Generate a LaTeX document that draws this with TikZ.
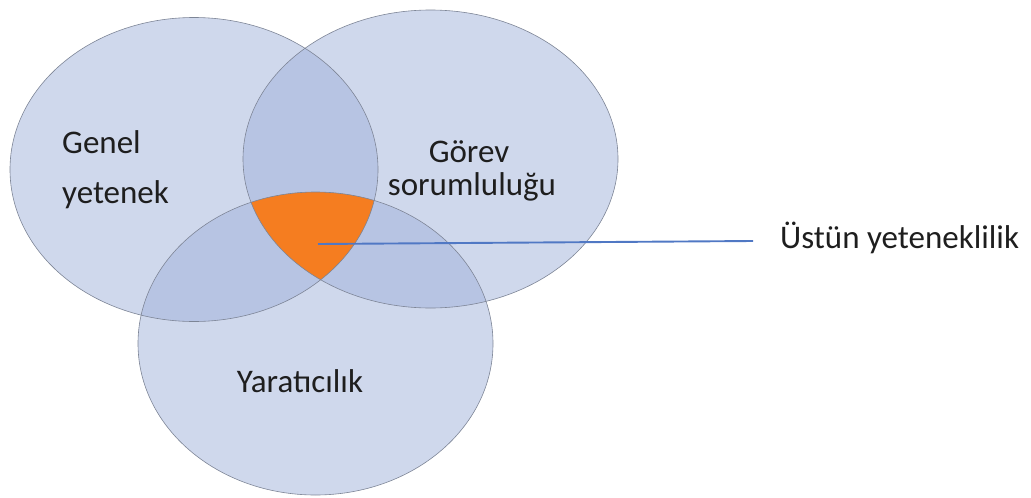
\documentclass[tikz,border=0pt]{standalone}
\usepackage{fontspec}
\setmainfont{Carlito}
\definecolor{vennfill}{RGB}{160,177,218}
\definecolor{vennedge}{RGB}{125,133,150}
\definecolor{coreorange}{RGB}{245,125,32}
\definecolor{leader}{RGB}{80,120,196}
\definecolor{txt}{RGB}{30,30,30}
\tikzset{
  setfill/.style={fill=vennfill, fill opacity=0.5},
  setedge/.style={draw=vennedge, line width=0.6pt},
  lbl/.style={font=\fontsize{33}{36}\selectfont, text=txt, inner sep=0pt},
  leaderline/.style={draw=leader, line width=1.9pt}
}
\begin{document}
\begin{tikzpicture}[x=1pt,y=-1pt]
\useasboundingbox (0,0) rectangle (1031,498);
% set fills
\path[setfill] (194,169.5) ellipse [x radius=184pt, y radius=152pt];
\path[setfill] (430.5,159) ellipse [x radius=187.5pt, y radius=149pt];
\path[setfill] (315.5,343.5) ellipse [x radius=177.5pt, y radius=151.5pt];
% triple intersection
\begin{scope}
  \clip (194,169.5) ellipse [x radius=184pt, y radius=152pt];
  \clip (430.5,159) ellipse [x radius=187.5pt, y radius=149pt];
  \fill[coreorange] (315.5,343.5) ellipse [x radius=177.5pt, y radius=151.5pt];
\end{scope}
% outlines
\draw[setedge] (194,169.5) ellipse [x radius=184pt, y radius=152pt];
\draw[setedge] (430.5,159) ellipse [x radius=187.5pt, y radius=149pt];
\draw[setedge] (315.5,343.5) ellipse [x radius=177.5pt, y radius=151.5pt];
% labels
\node[lbl, anchor=base west] (genel) at (62,153) {Genel};
\node[lbl, anchor=base west] (yetenek) at (62,203) {yetenek};
\node[lbl, anchor=base] (gorev) at (469,162) {Görev};
\node[lbl, anchor=base] (sorum) at (472,195) {sorumluluğu};
\node[lbl, anchor=base] (yarat) at (300,392) {Yaratıcılık};
\node[lbl, anchor=base west] (ustun) at (780,248) {Üstün yeteneklilik};
% leader line
\coordinate (core) at (318,244);
\coordinate (lineend) at (753,241);
\draw[leaderline] (core) -- (lineend);
\end{tikzpicture}
\end{document}
